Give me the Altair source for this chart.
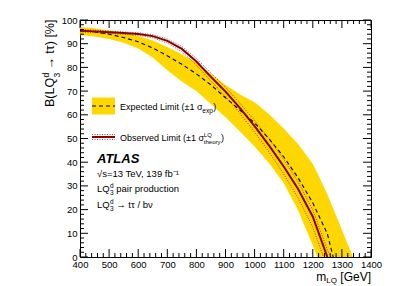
import altair as alt
import pandas as pd

# ---------------- data ----------------
# Observed limit (solid dark red), B in %
obs_m = [400, 450, 500, 550, 600, 650, 700, 750, 800, 850, 900, 950, 1000, 1050, 1100, 1150, 1200, 1250]
obs_b = [95.5, 95.2, 94.8, 94.5, 94.1, 93.2, 91.2, 87.8, 82.5, 76.0, 69.8, 62.8, 55.2, 47.0, 38.2, 28.6, 17.0, 0.0]

# Observed +1 sigma theory (dotted)
thu_m = [400, 450, 500, 550, 600, 650, 700, 750, 800, 850, 900, 950, 1000, 1050, 1100, 1150, 1200, 1250, 1262]
thu_b = [96.0, 95.7, 95.3, 95.0, 94.6, 93.8, 92.0, 88.8, 83.8, 77.6, 71.6, 64.8, 57.6, 49.7, 41.2, 31.6, 19.8, 3.0, 0.0]

# Observed -1 sigma theory (dotted)
thd_m = [400, 450, 500, 550, 600, 650, 700, 750, 800, 850, 900, 950, 1000, 1050, 1100, 1150, 1200, 1237]
thd_b = [95.0, 94.7, 94.3, 94.0, 93.5, 92.5, 90.3, 86.6, 81.0, 74.2, 67.8, 60.6, 52.7, 44.2, 35.0, 24.8, 12.5, 0.0]

# Expected limit (dashed)
exp_m = [400, 450, 500, 550, 600, 650, 700, 750, 800, 850, 900, 950, 1000, 1050, 1100, 1150, 1200, 1250, 1270]
exp_b = [95.5, 95.0, 94.0, 92.6, 90.8, 88.2, 84.9, 81.3, 77.3, 72.6, 67.2, 61.9, 56.6, 49.8, 42.3, 33.3, 22.8, 9.8, 0.0]

# Expected +-1 sigma band (yellow)
band_m = [400, 450, 500, 550, 600, 650, 700, 750, 800, 850, 900, 950, 1000, 1050, 1100, 1150, 1200, 1215, 1250, 1300, 1338]
band_lo = [93.6, 93.0, 92.0, 90.4, 88.0, 84.2, 78.8, 74.0, 70.0, 64.6, 59.0, 53.0, 46.6, 39.6, 31.2, 19.5, 5.0, 0.0, 0.0, 0.0, 0.0]
band_hi = [97.0, 96.5, 95.6, 94.6, 93.3, 91.3, 88.6, 85.6, 82.0, 77.2, 72.6, 68.6, 65.3, 60.2, 54.2, 47.6, 39.2, 35.5, 26.5, 11.5, 0.0]

# axis ticks
x_major = list(range(400, 1401, 100))
x_minor = [v for v in range(400, 1401, 20) if v % 100]
y_major = list(range(0, 101, 10))
y_minor = [v for v in range(0, 101, 2) if v % 10]

# ---------------- layout ----------------
W, H = 291, 237
X0, Y0 = 80, 20  # page position of the plot origin
FONT = "Liberation Sans"
YELLOW = "#FFD700"
RED = "#880000"

xs = alt.Scale(domain=[400, 1400], nice=False, zero=False)
ys = alt.Scale(domain=[0, 100], nice=False, zero=False)
AX_X = alt.Axis(values=x_major, ticks=False, domain=False, grid=False, labelFont=FONT,
                labelFontSize=9.5, labelPadding=2, labelOverlap=False, labelFlush=False,
                labelColor="black", title=None, format="d")
AX_Y = alt.Axis(values=y_major, ticks=False, domain=False, grid=False, labelFont=FONT,
                labelFontSize=9.5, labelPadding=3, labelOverlap=False, labelFlush=False,
                labelColor="black", title=None, format="d")

AW = {' ': 278, '(': 333, ')': 333, '[': 278, ']': 278, '%': 889, '=': 584, '/': 278, ',': 278,
      '.': 278, '±': 549, 'σ': 600, 'τ': 450, 'ν': 500, '→': 1000, '√': 549, '⁻': 350, '¹': 333,
      'A': 667, 'B': 667, 'E': 667, 'G': 778, 'L': 556, 'O': 778, 'Q': 778, 'S': 667, 'T': 611,
      'V': 667, 'a': 556, 'b': 556, 'c': 500, 'd': 556, 'e': 556, 'f': 278, 'h': 556, 'i': 222,
      'l': 222, 'm': 833, 'n': 556, 'o': 556, 'p': 556, 'r': 333, 's': 500, 't': 278, 'u': 556,
      'v': 500, 'x': 500, 'y': 500}


def tw(s, size):
    return sum(AW.get(c, 556) for c in s) * size / 1000.0


def px(x):
    return x - X0


def py(y):
    return y - Y0


def txt(s, x, y, size, align="left", baseline="alphabetic", angle=0, weight="normal",
        style="normal", color="black"):
    return alt.Chart(pd.DataFrame({"t": [s]})).mark_text(
        align=align, baseline=baseline, angle=angle, font=FONT, fontSize=size,
        fontWeight=weight, fontStyle=style, color=color
    ).encode(x=alt.value(px(x)), y=alt.value(py(y)), text="t:N")


def X(field):
    return alt.X(field, scale=xs, axis=AX_X)


def Y(field):
    return alt.Y(field, scale=ys, axis=AX_Y)


layers = []

band_df = pd.DataFrame({"m": band_m, "lo": band_lo, "hi": band_hi})
layers.append(
    alt.Chart(band_df).mark_area(color=YELLOW, opacity=1, clip=True).encode(
        x=X("m:Q"), y=Y("lo:Q"), y2="hi:Q")
)

exp_df = pd.DataFrame({"m": exp_m, "b": exp_b})
layers.append(
    alt.Chart(exp_df).mark_line(color="black", strokeWidth=1.1, strokeDash=[4, 3], clip=True).encode(
        x=X("m:Q"), y=Y("b:Q"))
)

for mm, bb in ((thd_m, thd_b), (thu_m, thu_b)):
    d = pd.DataFrame({"m": mm, "b": bb})
    layers.append(
        alt.Chart(d).mark_line(color=RED, strokeWidth=0.9, strokeDash=[1, 1.5], opacity=0.8, clip=True).encode(
            x=X("m:Q"), y=Y("b:Q"))
    )

obs_df = pd.DataFrame({"m": obs_m, "b": obs_b})
layers.append(
    alt.Chart(obs_df).mark_line(color=RED, strokeWidth=2, clip=True).encode(
        x=X("m:Q"), y=Y("b:Q"))
)

# inward ticks on all four sides
MAJ, MIN = 8, 4
for vals, L in ((x_major, MAJ), (x_minor, MIN)):
    d = pd.DataFrame({"m": vals})
    layers.append(alt.Chart(d).mark_rule(color="black", strokeWidth=1).encode(
        x=X("m:Q"), y=alt.value(H), y2=alt.value(H - L)))
    layers.append(alt.Chart(d).mark_rule(color="black", strokeWidth=1).encode(
        x=X("m:Q"), y=alt.value(0), y2=alt.value(L)))
for vals, L in ((y_major, MAJ), (y_minor, MIN)):
    d = pd.DataFrame({"b": vals})
    layers.append(alt.Chart(d).mark_rule(color="black", strokeWidth=1).encode(
        y=Y("b:Q"), x=alt.value(0), x2=alt.value(L)))
    layers.append(alt.Chart(d).mark_rule(color="black", strokeWidth=1).encode(
        y=Y("b:Q"), x=alt.value(W), x2=alt.value(W - L)))

# ---------------- legend ----------------
one = pd.DataFrame({"k": [0]})
layers.append(alt.Chart(one).mark_rect(color=YELLOW).encode(
    x=alt.value(px(92)), x2=alt.value(px(115)), y=alt.value(py(97.5)), y2=alt.value(py(114.5))))
layers.append(alt.Chart(one).mark_rule(color="black", strokeWidth=1.1, strokeDash=[4, 3]).encode(
    x=alt.value(px(92)), x2=alt.value(px(115)), y=alt.value(py(106))))
layers.append(alt.Chart(one).mark_rule(color=RED, strokeWidth=2).encode(
    x=alt.value(px(92)), x2=alt.value(px(115)), y=alt.value(py(137))))
for yy in (134.5, 139.5):
    layers.append(alt.Chart(one).mark_rule(color=RED, strokeWidth=0.9, strokeDash=[1, 1.5], opacity=0.8).encode(
        x=alt.value(px(92)), x2=alt.value(px(115)), y=alt.value(py(yy))))

LF = 9
s1 = "Expected Limit (±1 σ"
layers.append(txt(s1, 120, 110, LF))
x1 = 120 + tw(s1, LF)
layers.append(txt("exp", x1, 112.5, 6.5))
layers.append(txt(")", x1 + tw("exp", 6.5) + 0.5, 110, LF))

s2 = "Observed Limit (±1 σ"
layers.append(txt(s2, 120, 140.5, LF))
x2 = 120 + tw(s2, LF)
layers.append(txt("LQ", x2, 136.5, 6))
layers.append(txt("theory", x2, 143.5, 6))
layers.append(txt(")", x2 + tw("theory", 6) + 0.5, 140.5, LF))

# ---------------- ATLAS labels ----------------
layers.append(txt("ATLAS", 97, 163, 13, weight="bold", style="italic"))
layers.append(txt("√s=13 TeV, 139 fb⁻¹", 97, 177, 9.5))
for base, rest in ((192, "pair production"), (208, "→ tτ / bν")):
    layers.append(txt("LQ", 97, base, 9.5))
    xl = 97 + tw("LQ", 9.5) + 0.3
    layers.append(txt("d", xl, base - 4.5, 6.5))
    layers.append(txt("3", xl, base + 2.5, 6.5))
    layers.append(txt(rest, xl + tw("d", 6.5) + tw(" ", 9.5), base, 9.5))

# ---------------- axis titles ----------------
# y title, rotated (reads bottom to top)
TF = 12.5
yt0 = 107
layers.append(txt("B(LQ", 50, yt0, TF, angle=270, baseline="middle"))
yt1 = yt0 - tw("B(LQ", TF)
layers.append(txt("d", 46, yt1 - 0.3, 8.5, angle=270, baseline="middle"))
layers.append(txt("3", 57, yt1 - 0.3, 8.5, angle=270, baseline="middle"))
layers.append(txt("→ tτ) [%]", 50, yt1 - tw("d", 8.5) - tw(" ", TF), TF, angle=270, baseline="middle"))

# x title
XF = 12
layers.append(txt("[GeV]", 371, 280.5, XF, align="right"))
xq = 371 - tw("[GeV]", XF) - tw(" ", XF)
layers.append(txt("LQ", xq, 283, 8, align="right"))
layers.append(txt("m", xq - tw("LQ", 8), 280.5, XF, align="right"))

chart = alt.layer(*layers).properties(
    width=W, height=H,
    padding={"left": 72, "top": 12, "right": 20, "bottom": 30},
    autosize=alt.AutoSizeParams(type="none"),
).configure_view(stroke="black", strokeWidth=1).configure_axis(labelOverlap=False)

chart.save("out.html", embed_options={"renderer": "svg", "actions": False})
